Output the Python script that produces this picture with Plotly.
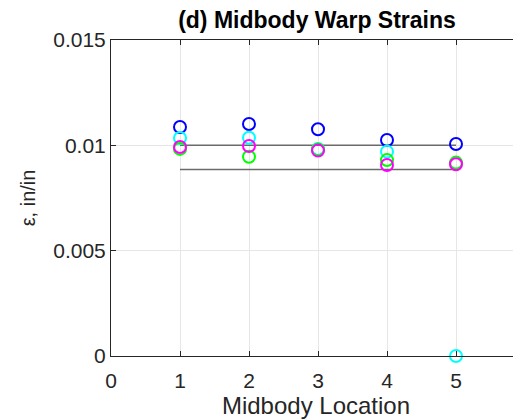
import plotly.graph_objects as go

locations = [1, 2, 3, 4, 5]
blue_vals = [0.01087, 0.01101, 0.01076, 0.01025, 0.01006]
cyan_vals = [0.01035, 0.01036, 0.00983, 0.00970, 0.0]
green_vals = [0.00983, 0.00946, 0.00980, 0.00930, 0.00918]
magenta_vals = [0.00992, 0.00997, 0.00975, 0.00907, 0.00910]
upper_limit = [0.0100, 0.0100]
lower_limit = [0.00885, 0.00885]
limit_x = [1, 5]

x_ticks = [0, 1, 2, 3, 4, 5]
y_ticks = [0, 0.005, 0.01, 0.015]
y_tick_text = ["0", "0.005", "0.01", "0.015"]

fig = go.Figure()
for yv in (upper_limit, lower_limit):
    fig.add_trace(go.Scatter(x=limit_x, y=yv, mode="lines",
                             line=dict(color="#6b6b6b", width=1.5),
                             showlegend=False, hoverinfo="skip"))

for vals, col in [(blue_vals, "#0000ff"), (cyan_vals, "#00ffff"),
                  (green_vals, "#00ff00"), (magenta_vals, "#ff00ff")]:
    fig.add_trace(go.Scatter(x=locations, y=vals, mode="markers",
                             marker=dict(symbol="circle-open", size=12,
                                         color=col, line=dict(width=2, color=col)),
                             cliponaxis=False, showlegend=False))

font_family = "Liberation Sans, Arial, Helvetica, sans-serif"
# page has an 8px body margin; figure sized to end at the window edge
fig.update_layout(
    width=513, height=411,
    margin=dict(l=103, r=0, t=32, b=63, autoexpand=False),
    paper_bgcolor="white", plot_bgcolor="white",
    font=dict(family=font_family, color="#262626", size=21),
    title=dict(text="<b>(d) Midbody Warp Strains</b>", x=(317 - 8) / 513, xanchor="center",
               y=1 - 4 / 411, yanchor="top",
               font=dict(size=23, color="black", family=font_family)),
    xaxis=dict(range=[0, 6 * 410 / 414], tickvals=x_ticks,
               ticktext=[str(t) for t in x_ticks],
               showgrid=True, gridcolor="#e6e6e6", gridwidth=1,
               showline=True, linecolor="#262626", linewidth=1,
               mirror="ticks", ticks="inside", ticklen=5, tickcolor="#262626",
               zeroline=False, automargin=False, ticklabelstandoff=6,
               title=dict(text="Midbody Location", font=dict(size=24), standoff=4)),
    yaxis=dict(range=[0, 0.015], tickvals=y_ticks, ticktext=y_tick_text,
               showgrid=True, gridcolor="#e6e6e6", gridwidth=1,
               showline=True, linecolor="#262626", linewidth=1,
               ticks="inside", ticklen=5, tickcolor="#262626",
               zeroline=False, automargin=False,
               title=dict(text="\u03b5, in/in", font=dict(size=20), standoff=12)),
)

fig.write_html("out.html")
